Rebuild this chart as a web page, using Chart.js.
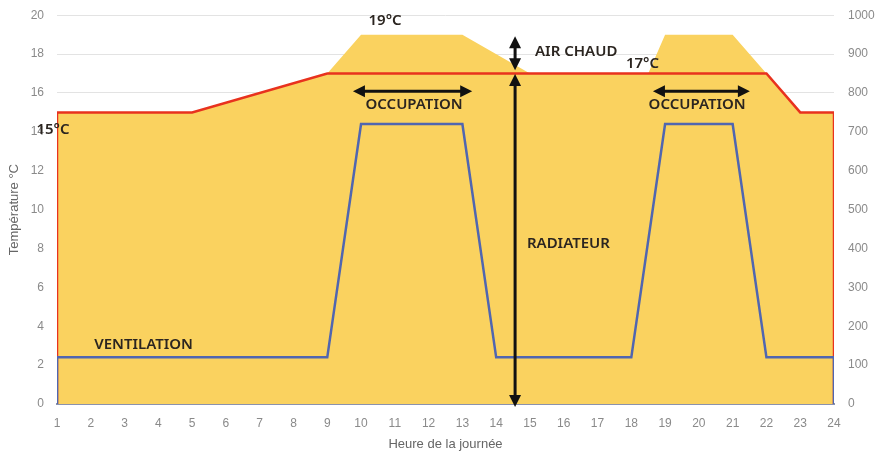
<!DOCTYPE html>
<html><head><meta charset="utf-8">
<script src="https://cdn.jsdelivr.net/npm/chart.js@4/dist/chart.umd.min.js"></script>
<style>html,body{margin:0;padding:0;background:#fff}#wrap{width:882px;height:456px}</style>
</head><body><div id="wrap"><canvas id="c" width="882" height="456"></canvas></div>
<script>
// Data
const airHours = [1, 5, 9, 10, 13, 15, 18.5, 19, 21, 22, 23, 24];
const airTemp  = [15, 15, 17, 19, 19, 17, 17, 19, 19, 17, 15, 15];
const radHours = [1, 1, 5, 9, 22, 23, 24, 24];
const radTemp  = [0, 15, 15, 17, 17, 15, 15, 0];
const ventHours = [1, 1, 9, 10, 13, 14, 18, 19, 21, 22, 24, 24];
const ventFlow  = [0, 120, 120, 720, 720, 120, 120, 720, 720, 120, 120, 0];

const labelTexts = ['19°C', 'AIR CHAUD', '17°C', 'OCCUPATION', 'OCCUPATION', '15°C', 'RADIATEUR', 'VENTILATION'];
const labelHours = [10.71, 15.15, 17.84, 11.57, 19.95, 0.88, 14.91, 2.10];
const labelTemps = [19.74, 18.10, 17.48, 15.42, 15.42, 14.09, 8.23, 3.03];
const labelAlign = ['center', 'left', 'left', 'center', 'center', 'center', 'left', 'left'];

const arrowX1 = [14.56, 14.56, 9.76, 18.64];
const arrowY1 = [-0.15, 17.17, 16.09, 16.09];
const arrowX2 = [14.56, 14.56, 13.29, 21.51];
const arrowY2 = [16.97, 18.92, 16.09, 16.09];

const pts = (xs, ys) => xs.map((x, i) => ({x: x, y: ys[i]}));

const YELLOW = '#FAD25F';
const RED = '#E8321E';
const BLUE = '#5066B0';
const TICK = '#8a8a8a';

function arrowHead(ctx, x, y, ang) {
  const L = 12, W = 6;
  ctx.beginPath();
  ctx.moveTo(x, y);
  ctx.lineTo(x - L * Math.cos(ang) + W * Math.sin(ang), y - L * Math.sin(ang) - W * Math.cos(ang));
  ctx.lineTo(x - L * Math.cos(ang) - W * Math.sin(ang), y - L * Math.sin(ang) + W * Math.cos(ang));
  ctx.closePath();
  ctx.fill();
}

const annot = {
  id: 'annot',
  afterDatasetsDraw(chart) {
    const ctx = chart.ctx, xs = chart.scales.x, ys = chart.scales.y;
    ctx.save();
    ctx.strokeStyle = '#111'; ctx.fillStyle = '#111'; ctx.lineWidth = 3;
    for (let i = 0; i < arrowX1.length; i++) {
      const x1 = xs.getPixelForValue(arrowX1[i]), y1 = ys.getPixelForValue(arrowY1[i]);
      const x2 = xs.getPixelForValue(arrowX2[i]), y2 = ys.getPixelForValue(arrowY2[i]);
      const ang = Math.atan2(y2 - y1, x2 - x1);
      const sx = x1 + 8 * Math.cos(ang), sy = y1 + 8 * Math.sin(ang);
      const ex = x2 - 8 * Math.cos(ang), ey = y2 - 8 * Math.sin(ang);
      ctx.beginPath(); ctx.moveTo(sx, sy); ctx.lineTo(ex, ey); ctx.stroke();
      arrowHead(ctx, x2, y2, ang);
      arrowHead(ctx, x1, y1, ang + Math.PI);
    }
    ctx.fillStyle = '#2b2520';
    ctx.font = '600 15px "Noto Sans", "DejaVu Sans", sans-serif';
    ctx.textBaseline = 'middle';
    for (let i = 0; i < labelTexts.length; i++) {
      ctx.textAlign = labelAlign[i];
      ctx.fillText(labelTexts[i], xs.getPixelForValue(labelHours[i]), ys.getPixelForValue(labelTemps[i]));
    }
    ctx.restore();
  }
};

new Chart(document.getElementById('c'), {
  type: 'line',
  data: {
    datasets: [
      { label: 'Air chaud', data: pts(airHours, airTemp), yAxisID: 'y', fill: 'origin',
        backgroundColor: YELLOW, borderWidth: 0, borderColor: 'rgba(0,0,0,0)', pointRadius: 0, order: 3 },
      { label: 'Radiateur', data: pts(radHours, radTemp), yAxisID: 'y', fill: false,
        borderColor: RED, borderWidth: 2.5, pointRadius: 0, order: 2 },
      { label: 'Ventilation', data: pts(ventHours, ventFlow), yAxisID: 'y2', fill: false,
        borderColor: BLUE, borderWidth: 2.5, pointRadius: 0, order: 1 }
    ]
  },
  options: {
    responsive: false,
    animation: false,
    layout: { padding: 0 },
    plugins: { legend: { display: false }, tooltip: { enabled: false } },
    elements: { line: { tension: 0 } },
    scales: {
      x: {
        type: 'linear', min: 1, max: 24,
        ticks: { stepSize: 1, color: TICK, font: { family: 'Liberation Sans', size: 12 }, padding: 12 },
        grid: { display: false, drawTicks: false },
        border: { display: true, color: '#8a92ad', width: 2 },
        title: { display: true, text: 'Heure de la journée', color: '#666', font: { family: 'Liberation Sans', size: 13 }, padding: { top: 5 } },
        afterFit(s) { s.height = 52; }
      },
      y: {
        position: 'left', min: 0, max: 20,
        ticks: { stepSize: 2, color: TICK, font: { family: 'Liberation Sans', size: 12 }, padding: 8 },
        grid: { color: '#e3e3e3', lineWidth: 1, drawTicks: true, tickLength: 5, tickColor: 'rgba(0,0,0,0)' },
        border: { display: false },
        title: { display: true, text: 'Température °C', color: '#666', font: { family: 'Liberation Sans', size: 13 }, padding: { top: 7, bottom: 0 } },
        afterFit(s) { s.width = 57; }
      },
      y2: {
        position: 'right', min: 0, max: 1000,
        ticks: { stepSize: 100, color: TICK, font: { family: 'Liberation Sans', size: 12 }, padding: 8, callback: v => String(v) },
        grid: { display: true, color: 'rgba(0,0,0,0)', drawOnChartArea: false, drawTicks: true, tickLength: 6, tickColor: 'rgba(0,0,0,0)' },
        border: { display: false },
        afterFit(s) { s.width = 48; }
      }
    }
  },
  plugins: [annot]
});
</script>
</body></html>
